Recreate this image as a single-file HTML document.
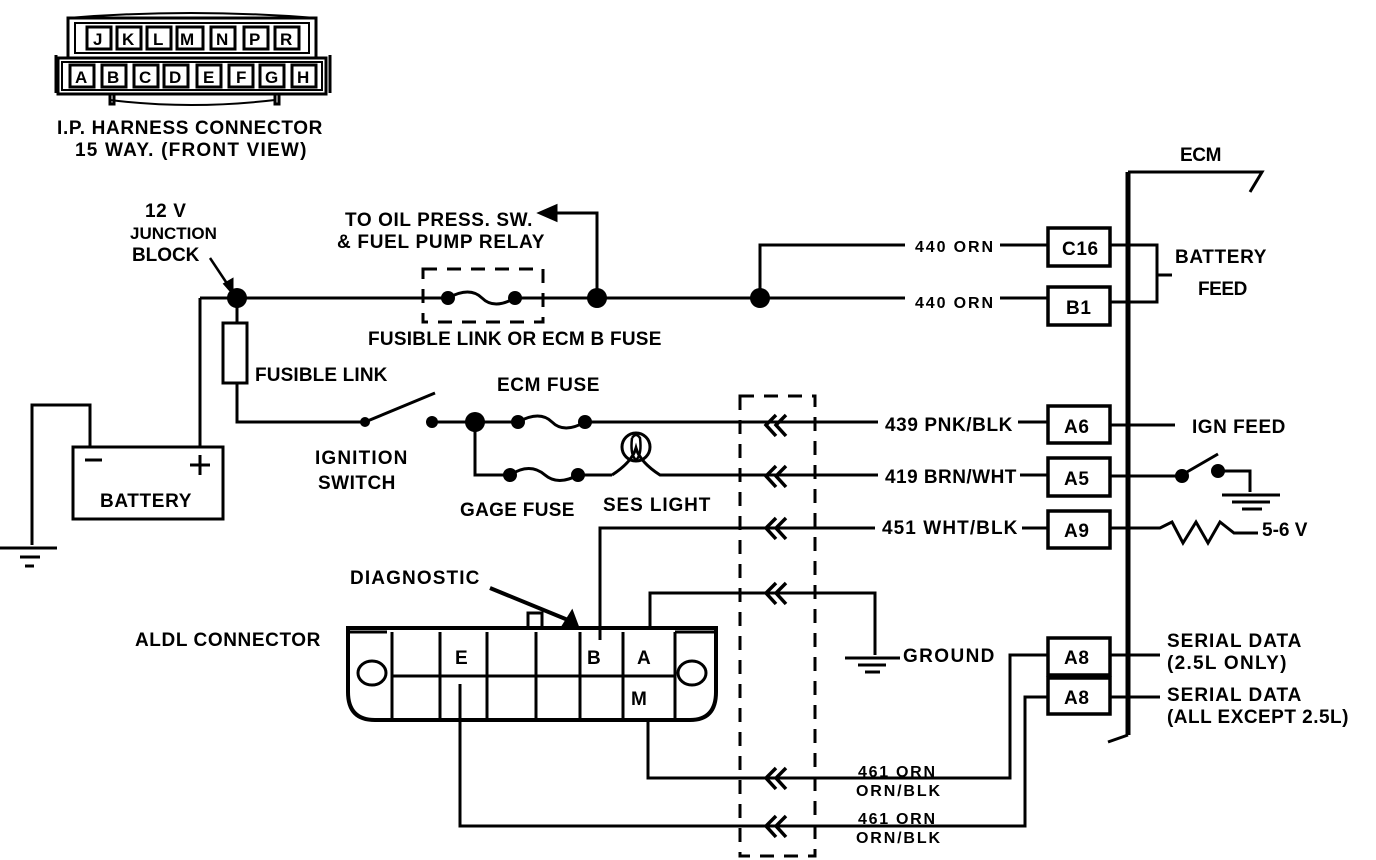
<!DOCTYPE html>
<html><head><meta charset="utf-8"><style>
html,body{margin:0;padding:0;background:#fff;}
svg{display:block;}
text{font-family:"Liberation Sans",sans-serif;font-weight:bold;fill:#000;}
</style></head><body>
<svg width="1376" height="860" viewBox="0 0 1376 860" xmlns="http://www.w3.org/2000/svg">
<g fill="none" stroke="#000" stroke-width="3">
<path d="M68 18 Q190 8 316 18" stroke-width="2"/>
<rect x="68" y="18" width="248" height="40"/>
<rect x="75" y="23" width="234" height="30" stroke-width="2"/>
<rect x="58" y="58" width="268" height="36"/>
<rect x="62" y="62" width="260" height="28" stroke-width="2"/>
<path d="M56 55 V93 M330 55 V93" stroke-width="3"/>
<path d="M110 94 V104 H114 V94 M275 94 V104 H279 V94" stroke-width="3"/>
<path d="M110 100 Q190 110 275 100" stroke-width="2"/>
<g stroke-width="3">
<rect x="87" y="27" width="24" height="22"/><rect x="117" y="27" width="24" height="22"/><rect x="147" y="27" width="24" height="22"/><rect x="177" y="27" width="26" height="22"/><rect x="211" y="27" width="24" height="22"/><rect x="244" y="27" width="24" height="22"/><rect x="275" y="27" width="24" height="22"/>
<rect x="70" y="65" width="24" height="22"/><rect x="102" y="65" width="24" height="22"/><rect x="134" y="65" width="24" height="22"/><rect x="164" y="65" width="24" height="22"/><rect x="197" y="65" width="24" height="22"/><rect x="229" y="65" width="24" height="22"/><rect x="260" y="65" width="24" height="22"/><rect x="292" y="65" width="24" height="22"/>
</g>
<path d="M200 298 H448 M515 298 H905 M1000 298 H1048"/>
<path d="M200 298 V447"/>
<path d="M237 298 V323"/>
<rect x="223" y="323" width="24" height="60"/>
<path d="M237 383 V422 H365 M365 422 L435 393 M432 422 H518"/>
<path d="M90 447 V405 H32 V545"/>
<path d="M0 548 H57 M20 557 H40 M25 566 H34"/>
<rect x="73" y="447" width="150" height="72"/>
<path d="M85 460 H102 M200 455 V475 M190 465 H210"/>
<path d="M210 258 L230 288" stroke-width="2.5"/>
<path d="M225 284 L232 292 L232 280 Z" fill="#000"/>
<rect x="423" y="269" width="120" height="53" stroke-dasharray="14,10"/>
<path d="M448 298 Q470 286 482 298 Q494 310 515 298"/>
<path d="M597 298 V213 H550"/>
<path d="M540 213 L556 206 L556 220 Z" fill="#000"/>
<path d="M760 298 V245 H905 M1000 245 H1048"/>
<path d="M518 422 Q540 410 552 422 Q564 434 585 422 M585 422 H878 M1018 422 H1048"/>
<path d="M475 422 V475 H510"/>
<path d="M510 475 Q530 462 545 475 Q558 486 578 475 H612"/>
<circle cx="636" cy="447" r="14"/>
<path d="M612 475 Q632 462 636 448 Q640 462 660 475 H878 M1020 475 H1048"/>
<path d="M632 438 Q630 455 636 460 Q642 455 640 438 Q636 432 632 438" stroke-width="2.5"/>
<path d="M600 640 V528 H875 M1022 528 H1048"/>
<rect x="740" y="396" width="75" height="460" stroke-dasharray="14,10"/>
<g stroke-width="3.5">
<path d="M776 415 L766 425 L776 436 M786 415 L776 425 L786 436"/>
<path d="M776 466 L766 476 L776 487 M786 466 L776 476 L786 487"/>
<path d="M776 518 L766 528 L776 539 M786 518 L776 528 L786 539"/>
<path d="M776 583 L766 593 L776 604 M786 583 L776 593 L786 604"/>
<path d="M776 768 L766 778 L776 789 M786 768 L776 778 L786 789"/>
<path d="M776 816 L766 826 L776 837 M786 816 L776 826 L786 837"/>
</g>
<path d="M650 628 V593 H875 V655"/>
<path d="M845 658 H900 M858 665 H886 M865 672 H880"/>
<path d="M1128 172 V735" stroke-width="5"/>
<path d="M1128 172 H1262 L1250 192"/>
<path d="M1128 735 L1108 742"/>
<g stroke-width="3.5">
<rect x="1048" y="228" width="62" height="38"/>
<rect x="1048" y="287" width="62" height="38"/>
<rect x="1048" y="406" width="62" height="37"/>
<rect x="1048" y="458" width="62" height="38"/>
<rect x="1048" y="511" width="62" height="37"/>
<rect x="1048" y="638" width="62" height="37"/>
<rect x="1048" y="678" width="62" height="36"/>
</g>
<path d="M1110 245 H1157 V302 H1110 M1157 275 H1172"/>
<path d="M1110 425 H1175"/>
<path d="M1110 476 H1180 M1180 476 L1218 454 M1218 471 H1250 V492 M1222 495 H1280 M1232 502 H1270 M1242 509 H1262"/>
<path d="M1110 528 H1160 L1172 522 L1183 543 L1196 522 L1208 543 L1220 522 L1234 533 H1258"/>
<path d="M1110 655 H1160 M1110 697 H1160"/>
<path d="M348 628 H716 V692 Q716 720 690 720 H375 Q348 720 348 692 Z" stroke-width="4"/>
<path d="M348 632 H387 M675 632 H716"/>
<path d="M392 632 V720 M675 632 V720 M392 676 H675 M440 632 V720 M487 632 V720 M536 632 V720 M580 632 V720 M623 632 V720"/>
<ellipse cx="372" cy="673" rx="14" ry="12"/>
<ellipse cx="692" cy="673" rx="14" ry="12"/>
<path d="M528 628 V613 H542 V628"/>
<path d="M490 588 L568 620" stroke-width="4"/>
<path d="M562 628 L578 628 L572 612 Z" fill="#000"/>
<path d="M648 720 V778 H1010 V655 H1048"/>
<path d="M460 684 V826 H1025 V697 H1048"/>
</g>
<g fill="#000">
<circle cx="237" cy="298" r="10"/><circle cx="597" cy="298" r="10"/><circle cx="760" cy="298" r="10"/>
<circle cx="448" cy="298" r="7"/><circle cx="515" cy="298" r="7"/>
<circle cx="365" cy="422" r="5"/><circle cx="432" cy="422" r="6"/><circle cx="475" cy="422" r="10"/>
<circle cx="518" cy="422" r="7"/><circle cx="585" cy="422" r="7"/>
<circle cx="510" cy="475" r="7"/><circle cx="578" cy="475" r="7"/>
<circle cx="1182" cy="476" r="7"/><circle cx="1218" cy="471" r="7"/>
</g>
<g font-size="17">
<text x="93" y="45">J</text><text x="122" y="45">K</text><text x="153" y="45">L</text><text x="180" y="45">M</text><text x="216" y="45">N</text><text x="249" y="45">P</text><text x="280" y="45">R</text>
<text x="75" y="83">A</text><text x="107" y="83">B</text><text x="139" y="83">C</text><text x="169" y="83">D</text><text x="203" y="83">E</text><text x="236" y="83">F</text><text x="265" y="83">G</text><text x="297" y="83">H</text>
</g>
<g font-size="19" letter-spacing="0.6">
<text x="57" y="134" textLength="266">I.P. HARNESS CONNECTOR</text>
<text x="75" y="156" textLength="232">15 WAY. (FRONT VIEW)</text>
<text x="145" y="217">12 V</text>
<text x="130" y="239" font-size="17" letter-spacing="0">JUNCTION</text>
<text x="132" y="261" textLength="68">BLOCK</text>
<text x="345" y="226" textLength="188">TO OIL PRESS. SW.</text>
<text x="337" y="248" textLength="208">&amp; FUEL PUMP RELAY</text>
<text x="368" y="345" textLength="294">FUSIBLE LINK OR ECM B FUSE</text>
<text x="255" y="381" textLength="133">FUSIBLE LINK</text>
<text x="497" y="391" textLength="103">ECM FUSE</text>
<text x="315" y="464" textLength="93">IGNITION</text>
<text x="318" y="489" textLength="78">SWITCH</text>
<text x="460" y="516" textLength="115">GAGE FUSE</text>
<text x="603" y="511" textLength="108">SES  LIGHT</text>
<text x="100" y="507" textLength="92">BATTERY</text>
<text x="350" y="584" textLength="130">DIAGNOSTIC</text>
<text x="135" y="646" textLength="186">ALDL CONNECTOR</text>
<text x="903" y="662" textLength="92">GROUND</text>
<text x="1180" y="161" textLength="42">ECM</text>
<text x="1175" y="263" textLength="92">BATTERY</text>
<text x="1198" y="295" textLength="50">FEED</text>
<text x="1192" y="433" textLength="94">IGN FEED</text>
<text x="1262" y="536" letter-spacing="0">5-6 V</text>
<text x="1167" y="647" textLength="135">SERIAL DATA</text>
<text x="1167" y="669" textLength="120">(2.5L ONLY)</text>
<text x="1167" y="701" textLength="135">SERIAL DATA</text>
<text x="1167" y="723" textLength="182">(ALL EXCEPT 2.5L)</text>
<text x="885" y="431" textLength="128">439 PNK/BLK</text>
<text x="885" y="483" textLength="132">419 BRN/WHT</text>
<text x="882" y="534" textLength="136">451 WHT/BLK</text>
<text x="1062" y="255">C16</text>
<text x="1066" y="314">B1</text>
<text x="1064" y="433">A6</text>
<text x="1064" y="485">A5</text>
<text x="1064" y="537">A9</text>
<text x="1064" y="664">A8</text>
<text x="1064" y="704">A8</text>
<text x="455" y="664">E</text>
<text x="587" y="664">B</text>
<text x="637" y="664">A</text>
<text x="631" y="705">M</text>
</g>
<g font-size="16">
<text x="915" y="252" textLength="78">440 ORN</text>
<text x="915" y="308" textLength="78">440 ORN</text>
<text x="858" y="777" textLength="77">461 ORN</text>
<text x="856" y="796" textLength="84">ORN/BLK</text>
<text x="858" y="824" textLength="77">461 ORN</text>
<text x="856" y="843" textLength="84">ORN/BLK</text>
</g>
</svg>
</body></html>
